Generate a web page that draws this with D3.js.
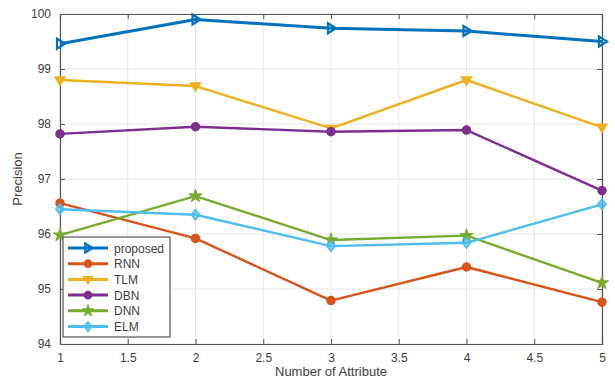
<!doctype html>
<html lang="en">
<head>
    <meta charset="UTF-8">
    <title>Precision vs Number of Attribute</title>
    <script src="https://d3js.org/d3.v7.min.js"></script>
    <style>
        body { margin: 0; background: #fff; }
        svg { display: block; font-family: "Liberation Sans", Arial, sans-serif; }
        .tick text { fill: #404040; font-size: 12px; }
    </style>
</head>
<body>
    <svg width="615" height="389"></svg>
    <script>
        // data
        const attributes = [1, 2, 3, 4, 5];
        const seriesNames = ["proposed", "RNN", "TLM", "DBN", "DNN", "ELM"];
        const proposed = [99.46, 99.90, 99.74, 99.69, 99.50];
        const rnn      = [96.56, 95.92, 94.79, 95.40, 94.76];
        const tlm      = [98.80, 98.69, 97.92, 98.80, 97.94];
        const dbn      = [97.82, 97.95, 97.86, 97.89, 96.79];
        const dnn      = [95.98, 96.69, 95.89, 95.97, 95.11];
        const elm      = [96.45, 96.35, 95.78, 95.84, 96.54];
        const xTicks = [1, 1.5, 2, 2.5, 3, 3.5, 4, 4.5, 5];
        const yTicks = [94, 95, 96, 97, 98, 99, 100];

        const colors = ["#0072BD", "#D95319", "#EDB120", "#7E2F8E", "#77AC30", "#4DBEEE"];
        const markers = ["tri-right", "circle", "tri-down", "circle", "star", "diamond"];
        const allValues = [proposed, rnn, tlm, dbn, dnn, elm];

        const series = seriesNames.map((name, i) => ({
            name: name,
            color: colors[i],
            marker: markers[i],
            values: attributes.map((a, j) => ({ x: a, y: allValues[i][j] }))
        }));

        const svg = d3.select("svg");
        const margin = { left: 60, right: 13, top: 14, bottom: 45 };
        const width = 615 - margin.left - margin.right;
        const height = 389 - margin.top - margin.bottom;

        const x = d3.scaleLinear().domain([1, 5]).range([0, width]);
        const y = d3.scaleLinear().domain([94, 100]).range([height, 0]);

        const g = svg.append("g").attr("transform", `translate(${margin.left},${margin.top})`);

        // grid
        g.append("g").selectAll("line")
            .data(xTicks).enter().append("line")
            .attr("x1", d => x(d)).attr("x2", d => x(d))
            .attr("y1", 0).attr("y2", height)
            .attr("stroke", "#e6e6e6").attr("stroke-width", 1);
        g.append("g").selectAll("line")
            .data(yTicks).enter().append("line")
            .attr("y1", d => y(d)).attr("y2", d => y(d))
            .attr("x1", 0).attr("x2", width)
            .attr("stroke", "#e6e6e6").attr("stroke-width", 1);

        // axes (box with inward ticks)
        g.append("g").attr("transform", `translate(0,${height})`)
            .call(d3.axisBottom(x).tickValues(xTicks).tickSize(-5).tickPadding(9).tickFormat(d3.format("")));
        g.append("g")
            .call(d3.axisLeft(y).tickValues(yTicks).tickSize(-5).tickPadding(9).tickFormat(d3.format("d")));
        g.append("g")
            .call(d3.axisTop(x).tickValues(xTicks).tickSize(-5).tickFormat(""));
        g.append("g").attr("transform", `translate(${width},0)`)
            .call(d3.axisRight(y).tickValues(yTicks).tickSize(-5).tickFormat(""));
        g.selectAll(".domain").attr("stroke", "#555").attr("stroke-width", 1.2);
        g.selectAll(".tick line").attr("stroke", "#555");

        // lines and markers
        const line = d3.line().x(d => x(d.x)).y(d => y(d.y));
        const drawMarker = (sel, m, color, s) => {
            if (m === "circle") {
                sel.append("circle").attr("r", s * 0.8).attr("fill", color).attr("stroke", color).attr("stroke-width", 1.5);
            } else if (m === "tri-right") {
                sel.append("path").attr("d", `M${-s * 0.6},${-s}L${s},0L${-s * 0.6},${s}Z`)
                    .attr("fill", "none").attr("stroke", color).attr("stroke-width", 2.2);
            } else if (m === "tri-down") {
                sel.append("path").attr("d", `M${-s},${-s * 0.6}L${s},${-s * 0.6}L0,${s}Z`)
                    .attr("fill", color).attr("stroke", color).attr("stroke-width", 1.5);
            } else if (m === "diamond") {
                sel.append("path").attr("d", `M0,${-s}L${s * 0.8},0L0,${s}L${-s * 0.8},0Z`)
                    .attr("fill", color).attr("fill-opacity", 0.6).attr("stroke", color).attr("stroke-width", 1.8);
            } else if (m === "star") {
                sel.append("path").attr("d", d3.symbol().type(d3.symbolStar).size(s * s * 2.2)())
                    .attr("fill", color).attr("stroke", color).attr("stroke-width", 1);
            }
        };

        series.forEach(s => {
            g.append("path").datum(s.values)
                .attr("d", line)
                .attr("fill", "none")
                .attr("stroke", s.color)
                .attr("stroke-width", s.name === "proposed" ? 3 : 2.4)
                .attr("stroke-linejoin", "round");
            g.append("g").selectAll("g")
                .data(s.values).enter().append("g")
                .attr("transform", d => `translate(${x(d.x)},${y(d.y)})`)
                .each(function () { drawMarker(d3.select(this), s.marker, s.color, 5); });
        });

        // axis labels
        svg.append("text")
            .attr("x", margin.left + width / 2).attr("y", 376)
            .attr("text-anchor", "middle").attr("font-size", 13).attr("fill", "#404040")
            .text("Number of Attribute");
        svg.append("text")
            .attr("transform", `translate(22,${margin.top + height / 2}) rotate(-90)`)
            .attr("text-anchor", "middle").attr("font-size", 13).attr("fill", "#404040")
            .text("Precision");

        // legend
        const legend = g.append("g").attr("transform", "translate(3,223)");
        legend.append("rect")
            .attr("width", 107).attr("height", 100)
            .attr("fill", "#fff").attr("stroke", "#555").attr("stroke-width", 1.2);
        series.forEach((s, i) => {
            const row = legend.append("g").attr("transform", `translate(0,${11 + i * 15.7})`);
            row.append("line").attr("x1", 5).attr("x2", 45).attr("y1", 0).attr("y2", 0)
                .attr("stroke", s.color).attr("stroke-width", 3);
            const mk = row.append("g").attr("transform", "translate(25,0)");
            drawMarker(mk, s.marker, s.color, 4.5);
            row.append("text").attr("x", 51).attr("y", 4.5)
                .attr("font-size", 12).attr("fill", "#404040").text(s.name);
        });
    </script>
</body>
</html>
